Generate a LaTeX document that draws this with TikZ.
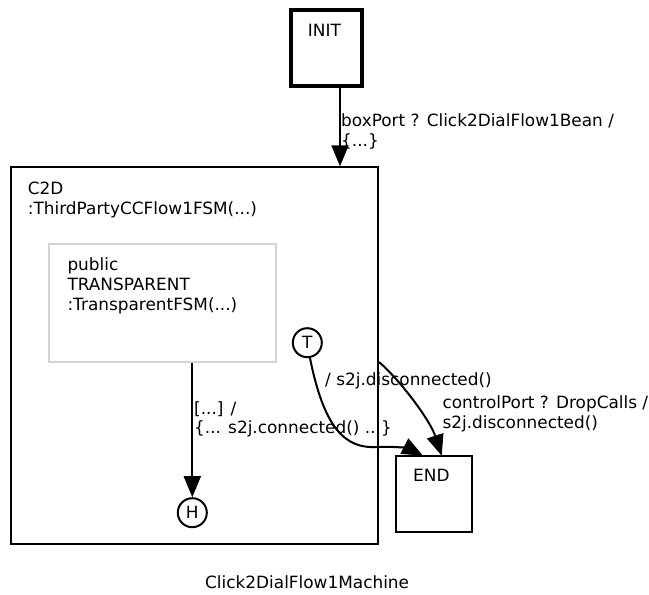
\documentclass[tikz,border=0pt]{standalone}
\usepackage{fontspec}
\setmainfont{DejaVu Sans}
\usetikzlibrary{arrows.meta}
\begin{document}
\begin{tikzpicture}[x=1pt,y=-1pt,
  every node/.style={font=\fontsize{16.9}{19.5}\selectfont},
  statebox/.style={draw, line width=2pt, rectangle, inner sep=0pt},
  initbox/.style={draw, line width=4pt, rectangle, inner sep=0pt},
  innerbox/.style={draw=black!17, line width=2pt, rectangle, inner sep=0pt},
  pseudo/.style={draw, line width=2pt, circle, inner sep=0pt, minimum size=29pt},
  txt/.style={anchor=base west, inner sep=0pt},
  trans/.style={line width=2pt, -{Triangle[length=21pt,width=17pt]}}]
\useasboundingbox (0,0) rectangle (649,595);

% states
\node[initbox, minimum width=71pt, minimum height=76pt] (init) at (326.5,48) {};
\node[txt] (initlbl) at (307.7,36) {INIT};

\node[statebox, minimum width=367pt, minimum height=376.7pt] (c2d) at (194.5,355.65) {};
\node[txt] (c2dl1) at (27.7,194.3) {C2D};
\node[txt] (c2dl2) at (27.7,214.5) {:ThirdPartyCCFlow1FSM(...)};

\node[innerbox, minimum width=226.7pt, minimum height=117.4pt] (transp) at (162.65,303) {};
\node[txt] (tl1) at (67.3,270) {public};
\node[txt] (tl2) at (67.3,290) {TRANSPARENT};
\node[txt] (tl3) at (67.3,310) {:TransparentFSM(...)};

\node[pseudo] (T) at (307.3,342.7) {T};
\node[pseudo] (H) at (192.3,512.7) {H};

\node[statebox, minimum width=76.3pt, minimum height=76pt] (end) at (433.85,493.7) {};
\node[txt] (endlbl) at (413,481.7) {END};

% transitions
\coordinate (iout) at (340,0 |- init.south);
\draw[trans] (iout) -- (iout |- c2d.north);
\node[txt] (lb1a) at (341,126) {boxPort ? Click2DialFlow1Bean /};
\node[txt] (lb1b) at (341,146.7) {\{...\}};

\draw[trans] (H |- transp.south) -- (H.north);
\node[txt] (lb2a) at (194,414) {[...] /};
\node[txt] (lb2b) at (194,433.5) {\{... s2j.connected() ...\}};

\coordinate (tin) at (423,455.7);
\draw[trans] (T.-80) .. controls (324,428) and (345,449) .. (377,447)
  .. controls (395,446) and (410,449) .. (tin);
\node[txt] (lb3) at (325,385) {/ s2j.disconnected()};

\coordinate (cout) at (c2d.east |- 0,362);
\coordinate (cin) at (441.7,455.7);
\draw[trans] (cout) .. controls (400,380) and (430,420) .. (cin);
\node[txt] (lb4a) at (442.3,408.3) {controlPort ? DropCalls /};
\node[txt] (lb4b) at (442.3,428) {s2j.disconnected()};

% machine name
\node[txt] (title) at (205,588) {Click2DialFlow1Machine};
\end{tikzpicture}
\end{document}
